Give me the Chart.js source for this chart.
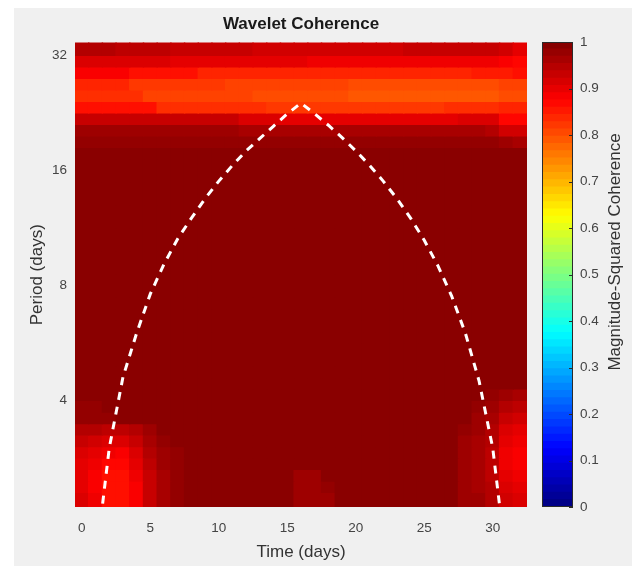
<!DOCTYPE html>
<html>
<head>
<meta charset="utf-8">
<title>Wavelet Coherence</title>
<script src="https://cdn.jsdelivr.net/npm/chart.js@4.4.1/dist/chart.umd.min.js"></script>
<style>
  html, body { margin: 0; padding: 0; background: #ffffff; }
  #figure { position: relative; width: 635px; height: 566px; overflow: hidden; }
  #panel { position: absolute; left: 14px; top: 8px; width: 618px; height: 558px; background: #f0f0f0; }
  #coherenceChart { position: absolute; left: 0; top: 0; }
  #colorbarChart { position: absolute; left: 530px; top: 0; }
</style>
</head>
<body>
<div id="figure">
  <div id="panel"></div>
  <canvas id="coherenceChart" width="540" height="566"></canvas>
  <canvas id="colorbarChart" width="105" height="566"></canvas>
</div>
<script>
// time samples (days)
const days = [0, 1, 2, 3, 4, 5, 6, 7, 8, 9, 10, 11, 12, 13, 14, 15, 16,
  17, 18, 19, 20, 21, 22, 23, 24, 25, 26, 27, 28, 29, 30, 31, 32];

// period axis ticks (days)
const periodTicks = [4, 8, 16, 32];

// edges of the period rows, top to bottom (10 voices per octave)
const periodEdges = [36.76, 34.30, 32.00, 29.86, 27.86, 25.99, 24.25, 22.63, 21.11, 19.70,
  18.38, 17.15, 16.00, 14.93, 13.93, 13.00, 12.13, 11.31, 10.56, 9.85,
  9.19, 8.57, 8.00, 7.46, 6.96, 6.50, 6.06, 5.66, 5.28, 4.92,
  4.59, 4.29, 4.00, 3.73, 3.48, 3.25, 3.03, 2.83, 2.64, 2.46,
  2.30, 2.14, 2.00];

// magnitude-squared coherence in percent, one row per period band (top first), one value per day
const coherence = [
  [95,95,95,94,94,94,94,93,93,93,93, 93,93,92,92,92,92,92,92,92,92,92, 92,92,93,93,93,93,93,93,93,92,90],
  [95,95,95,94,94,94,94,93,93,93,93, 93,93,92,92,92,92,92,92,92,92,92, 92,92,93,93,93,93,93,93,93,92,90],
  [91,91,91,91,91,91,91,90,90,90,90, 90,90,90,90,90,90,89,89,89,89,89, 89,89,89,89,89,89,89,89,89,88,87],
  [88,88,88,88,86,86,86,86,86,84,84, 84,84,84,84,84,84,84,84,84,84,84, 84,84,84,84,84,84,84,85,85,85,86],
  [84,84,84,84,82,82,82,82,82,82,82, 81,81,81,81,81,81,81,81,81,80,80, 80,80,80,80,80,80,80,80,80,81,81],
  [83,83,83,83,83,81,81,81,81,81,81, 81,81,80,80,80,80,80,80,80,79,79, 79,79,79,79,79,79,79,79,79,80,80],
  [86,86,86,86,86,86,83,83,83,83,83, 83,83,83,82,82,82,82,82,82,82,82, 82,82,82,82,82,83,83,83,83,84,84],
  [93,93,93,93,93,93,93,93,93,93,93, 93,91,91,91,90,90,90,90,90,90,90, 90,90,90,90,90,90,91,91,91,87,87],
  [97,97,97,97,97,97,97,97,97,97,97, 97,96,96,96,96,96,96,96,96,96,96, 96,96,96,96,96,96,96,96,95,92,92],
  [98,98,98,98,98,98,98,98,98,98,98, 98,98,98,98,98,98,98,98,98,98,98, 98,98,98,98,98,98,98,98,98,97,96],
  [99,99,99,99,99,99,99,99,99,99,99, 99,99,99,99,99,99,99,99,99,99,99, 99,99,99,99,99,99,99,99,99,99,99],
  [99,99,99,99,99,99,99,99,99,99,99, 99,99,99,99,99,99,99,99,99,99,99, 99,99,99,99,99,99,99,99,99,99,99],
  [99,99,99,99,99,99,99,99,99,99,99, 99,99,99,99,99,99,99,99,99,99,99, 99,99,99,99,99,99,99,99,99,99,99],
  [99,99,99,99,99,99,99,99,99,99,99, 99,99,99,99,99,99,99,99,99,99,99, 99,99,99,99,99,99,99,99,99,99,99],
  [99,99,99,99,99,99,99,99,99,99,99, 99,99,99,99,99,99,99,99,99,99,99, 99,99,99,99,99,99,99,99,99,99,99],
  [99,99,99,99,99,99,99,99,99,99,99, 99,99,99,99,99,99,99,99,99,99,99, 99,99,99,99,99,99,99,99,99,99,99],
  [99,99,99,99,99,99,99,99,99,99,99, 99,99,99,99,99,99,99,99,99,99,99, 99,99,99,99,99,99,99,99,99,99,99],
  [99,99,99,99,99,99,99,99,99,99,99, 99,99,99,99,99,99,99,99,99,99,99, 99,99,99,99,99,99,99,99,99,99,99],
  [99,99,99,99,99,99,99,99,99,99,99, 99,99,99,99,99,99,99,99,99,99,99, 99,99,99,99,99,99,99,99,99,99,99],
  [99,99,99,99,99,99,99,99,99,99,99, 99,99,99,99,99,99,99,99,99,99,99, 99,99,99,99,99,99,99,99,99,99,99],
  [99,99,99,99,99,99,99,99,99,99,99, 99,99,99,99,99,99,99,99,99,99,99, 99,99,99,99,99,99,99,99,99,99,99],
  [99,99,99,99,99,99,99,99,99,99,99, 99,99,99,99,99,99,99,99,99,99,99, 99,99,99,99,99,99,99,99,99,99,99],
  [99,99,99,99,99,99,99,99,99,99,99, 99,99,99,99,99,99,99,99,99,99,99, 99,99,99,99,99,99,99,99,99,99,99],
  [99,99,99,99,99,99,99,99,99,99,99, 99,99,99,99,99,99,99,99,99,99,99, 99,99,99,99,99,99,99,99,99,99,99],
  [99,99,99,99,99,99,99,99,99,99,99, 99,99,99,99,99,99,99,99,99,99,99, 99,99,99,99,99,99,99,99,99,99,99],
  [99,99,99,99,99,99,99,99,99,99,99, 99,99,99,99,99,99,99,99,99,99,99, 99,99,99,99,99,99,99,99,99,99,99],
  [99,99,99,99,99,99,99,99,99,99,99, 99,99,99,99,99,99,99,99,99,99,99, 99,99,99,99,99,99,99,99,99,99,99],
  [99,99,99,99,99,99,99,99,99,99,99, 99,99,99,99,99,99,99,99,99,99,99, 99,99,99,99,99,99,99,99,99,99,99],
  [99,99,99,99,99,99,99,99,99,99,99, 99,99,99,99,99,99,99,99,99,99,99, 99,99,99,99,99,99,99,99,99,99,99],
  [99,99,99,99,99,99,99,99,99,99,99, 99,99,99,99,99,99,99,99,99,99,99, 99,99,99,99,99,99,99,99,99,99,99],
  [99,99,99,99,99,99,99,99,99,99,99, 99,99,99,99,99,99,99,99,99,99,99, 99,99,99,99,99,99,99,99,99,99,99],
  [99,99,99,99,99,99,99,99,99,99,99, 99,99,99,99,99,99,99,99,99,99,99, 99,99,99,99,99,99,99,99,98,97,96],
  [98,98,99,99,99,99,99,99,99,99,99, 99,99,99,99,99,99,99,99,99,99,99, 99,99,99,99,99,99,99,98,97,95,94],
  [98,98,98,99,99,99,99,99,99,99,99, 99,99,99,99,99,99,99,99,99,99,99, 99,99,99,99,99,99,99,97,96,93,92],
  [95,95,94,94,95,97,99,99,99,99,99, 99,99,99,99,99,99,99,99,99,99,99, 99,99,99,99,99,99,98,97,95,91,90],
  [93,92,91,91,93,96,98,99,99,99,99, 99,99,99,99,99,99,99,99,99,99,99, 99,99,99,99,99,99,97,96,95,90,89],
  [91,90,89,88,91,95,97,98,99,99,99, 99,99,99,99,99,99,99,99,99,99,99, 99,99,99,99,99,99,97,96,94,89,88],
  [90,89,87,87,90,94,97,98,99,99,99, 99,99,99,99,99,99,99,99,99,99,99, 99,99,99,99,99,99,97,96,94,89,88],
  [90,88,86,86,89,93,96,98,99,99,99, 99,99,99,99,99,97,97,99,99,99,99, 99,99,99,99,99,99,97,96,94,90,89],
  [90,88,86,86,88,93,96,98,99,99,99, 99,99,99,99,99,97,97,98,99,99,99, 99,99,99,99,99,99,97,96,95,91,90],
  [91,89,86,86,88,93,96,98,99,99,99, 99,99,99,99,99,97,97,97,99,99,99, 99,99,99,99,99,99,97,97,95,92,91],
  [91,89,86,86,88,93,96,98,99,99,99, 99,99,99,99,99,97,97,97,99,99,99, 99,99,99,99,99,99,97,97,95,92,91]
];

// cone of influence (period in days at each day)
const coiPeriod = [null, 1.5, 3.0, 4.6, 6.0, 7.6, 9.1, 10.6, 12.0, 13.5, 15.0, 16.5, 18.0, 19.4, 20.9, 22.5,
  24.0, 22.5, 21.0, 19.5, 18.0, 16.5, 15.0, 13.5, 12.0, 10.5, 9.0, 7.5, 6.0, 4.5, 3.0, 1.5, null];

// colorbar tick labels
const colorbarTicks = [0, 0.1, 0.2, 0.3, 0.4, 0.5, 0.6, 0.7, 0.8, 0.9, 1];

const FONT = "'Liberation Sans', Arial, sans-serif";

// MATLAB style jet colormap
function jet(v) {
  const c = x => Math.round(255 * Math.min(1, Math.max(0, x)));
  return 'rgb(' + c(1.5 - Math.abs(4 * v - 3)) + ',' + c(1.5 - Math.abs(4 * v - 2)) + ',' + c(1.5 - Math.abs(4 * v - 1)) + ')';
}

// one floating-bar dataset per period band
const heatRows = coherence.map((row, r) => ({
  type: 'bar',
  data: row.map(() => [periodEdges[r + 1], periodEdges[r]]),
  backgroundColor: row.map(v => jet(v / 100)),
  borderWidth: 0,
  inflateAmount: 0.7,
  barPercentage: 1,
  categoryPercentage: 1,
  grouped: false,
  order: 1
}));

new Chart(document.getElementById('coherenceChart'), {
  type: 'bar',
  data: {
    labels: days,
    datasets: [{
      type: 'line',
      data: coiPeriod,
      borderColor: '#ffffff',
      borderWidth: 3,
      borderDash: [8, 7],
      pointRadius: 0,
      tension: 0,
      clip: 0,
      order: 0
    }, ...heatRows]
  },
  options: {
    responsive: false,
    animation: false,
    devicePixelRatio: 1,
    events: [],
    layout: { padding: { left: 0, top: 0, right: 13, bottom: 0 } },
    plugins: {
      legend: { display: false },
      tooltip: { enabled: false },
      title: {
        display: true,
        text: 'Wavelet Coherence',
        fullSize: false,
        color: '#1a1a1a',
        font: { family: FONT, size: 17, weight: 'bold' },
        padding: { top: 14, bottom: 8 }
      }
    },
    scales: {
      x: {
        type: 'category',
        offset: true,
        grid: { display: false, drawTicks: false },
        border: { display: false },
        ticks: {
          autoSkip: false,
          maxRotation: 0,
          padding: 13,
          color: '#444',
          font: { family: FONT, size: 13.5 },
          callback: (v, i) => days[i] % 5 === 0 ? String(days[i]) : ''
        },
        title: {
          display: true,
          text: 'Time (days)',
          color: '#333',
          font: { family: FONT, size: 17 },
          padding: { top: 0, bottom: 3 }
        },
        afterFit: s => { s.height = 59; }
      },
      y: {
        type: 'logarithmic',
        position: 'left',
        min: 2.104,
        max: 34.6,
        grid: { display: false, drawTicks: false },
        border: { display: false },
        afterBuildTicks: s => { s.ticks = periodTicks.map(v => ({ value: v })); },
        ticks: {
          padding: 8,
          color: '#444',
          font: { family: FONT, size: 13.5 },
          callback: v => String(v)
        },
        title: {
          display: true,
          text: 'Period (days)',
          color: '#333',
          font: { family: FONT, size: 17 },
          padding: { top: 27, bottom: 0 }
        },
        afterFit: s => { s.width = 75; }
      }
    }
  }
});

// colorbar: frame, small ticks and the rotated label
const colorbarFrame = {
  id: 'colorbarFrame',
  afterDraw(chart) {
    const { ctx, chartArea: a } = chart;
    const y = chart.scales.y;
    ctx.save();
    ctx.strokeStyle = '#2b2b2b';
    ctx.lineWidth = 1;
    ctx.strokeRect(a.left + 0.5, a.top + 0.5, a.right - a.left - 1, a.bottom - a.top - 1);
    colorbarTicks.forEach(v => {
      const py = Math.round(y.getPixelForValue(v)) + 0.5;
      ctx.beginPath();
      ctx.moveTo(a.right - 4, py);
      ctx.lineTo(a.right, py);
      ctx.stroke();
    });
    ctx.translate(85, 252);
    ctx.rotate(-Math.PI / 2);
    ctx.font = '17px ' + FONT;
    ctx.fillStyle = '#333';
    ctx.textAlign = 'center';
    ctx.textBaseline = 'middle';
    ctx.fillText('Magnitude-Squared Coherence', 0, 0);
    ctx.restore();
  }
};

const colorSteps = 64;
const colorSets = [];
for (let k = 0; k < colorSteps; k++) {
  colorSets.push({
    data: [[k / colorSteps, (k + 1) / colorSteps]],
    backgroundColor: jet((k + 0.5) / colorSteps),
    borderWidth: 0,
    inflateAmount: 0.7,
    barPercentage: 1,
    categoryPercentage: 1,
    grouped: false
  });
}

new Chart(document.getElementById('colorbarChart'), {
  type: 'bar',
  data: { labels: [''], datasets: colorSets },
  options: {
    responsive: false,
    animation: false,
    devicePixelRatio: 1,
    events: [],
    layout: { padding: { left: 12, top: 42, right: 0, bottom: 59 } },
    plugins: { legend: { display: false }, tooltip: { enabled: false } },
    scales: {
      x: { display: false },
      y: {
        type: 'linear',
        position: 'right',
        min: 0,
        max: 1,
        grid: { display: false, drawTicks: false },
        border: { display: false },
        afterBuildTicks: s => { s.ticks = colorbarTicks.map(v => ({ value: v })); },
        ticks: {
          padding: 7,
          color: '#444',
          font: { family: FONT, size: 13.5 },
          callback: v => String(v)
        },
        afterFit: s => { s.width = 62; }
      }
    }
  },
  plugins: [colorbarFrame]
});
</script>
</body>
</html>
